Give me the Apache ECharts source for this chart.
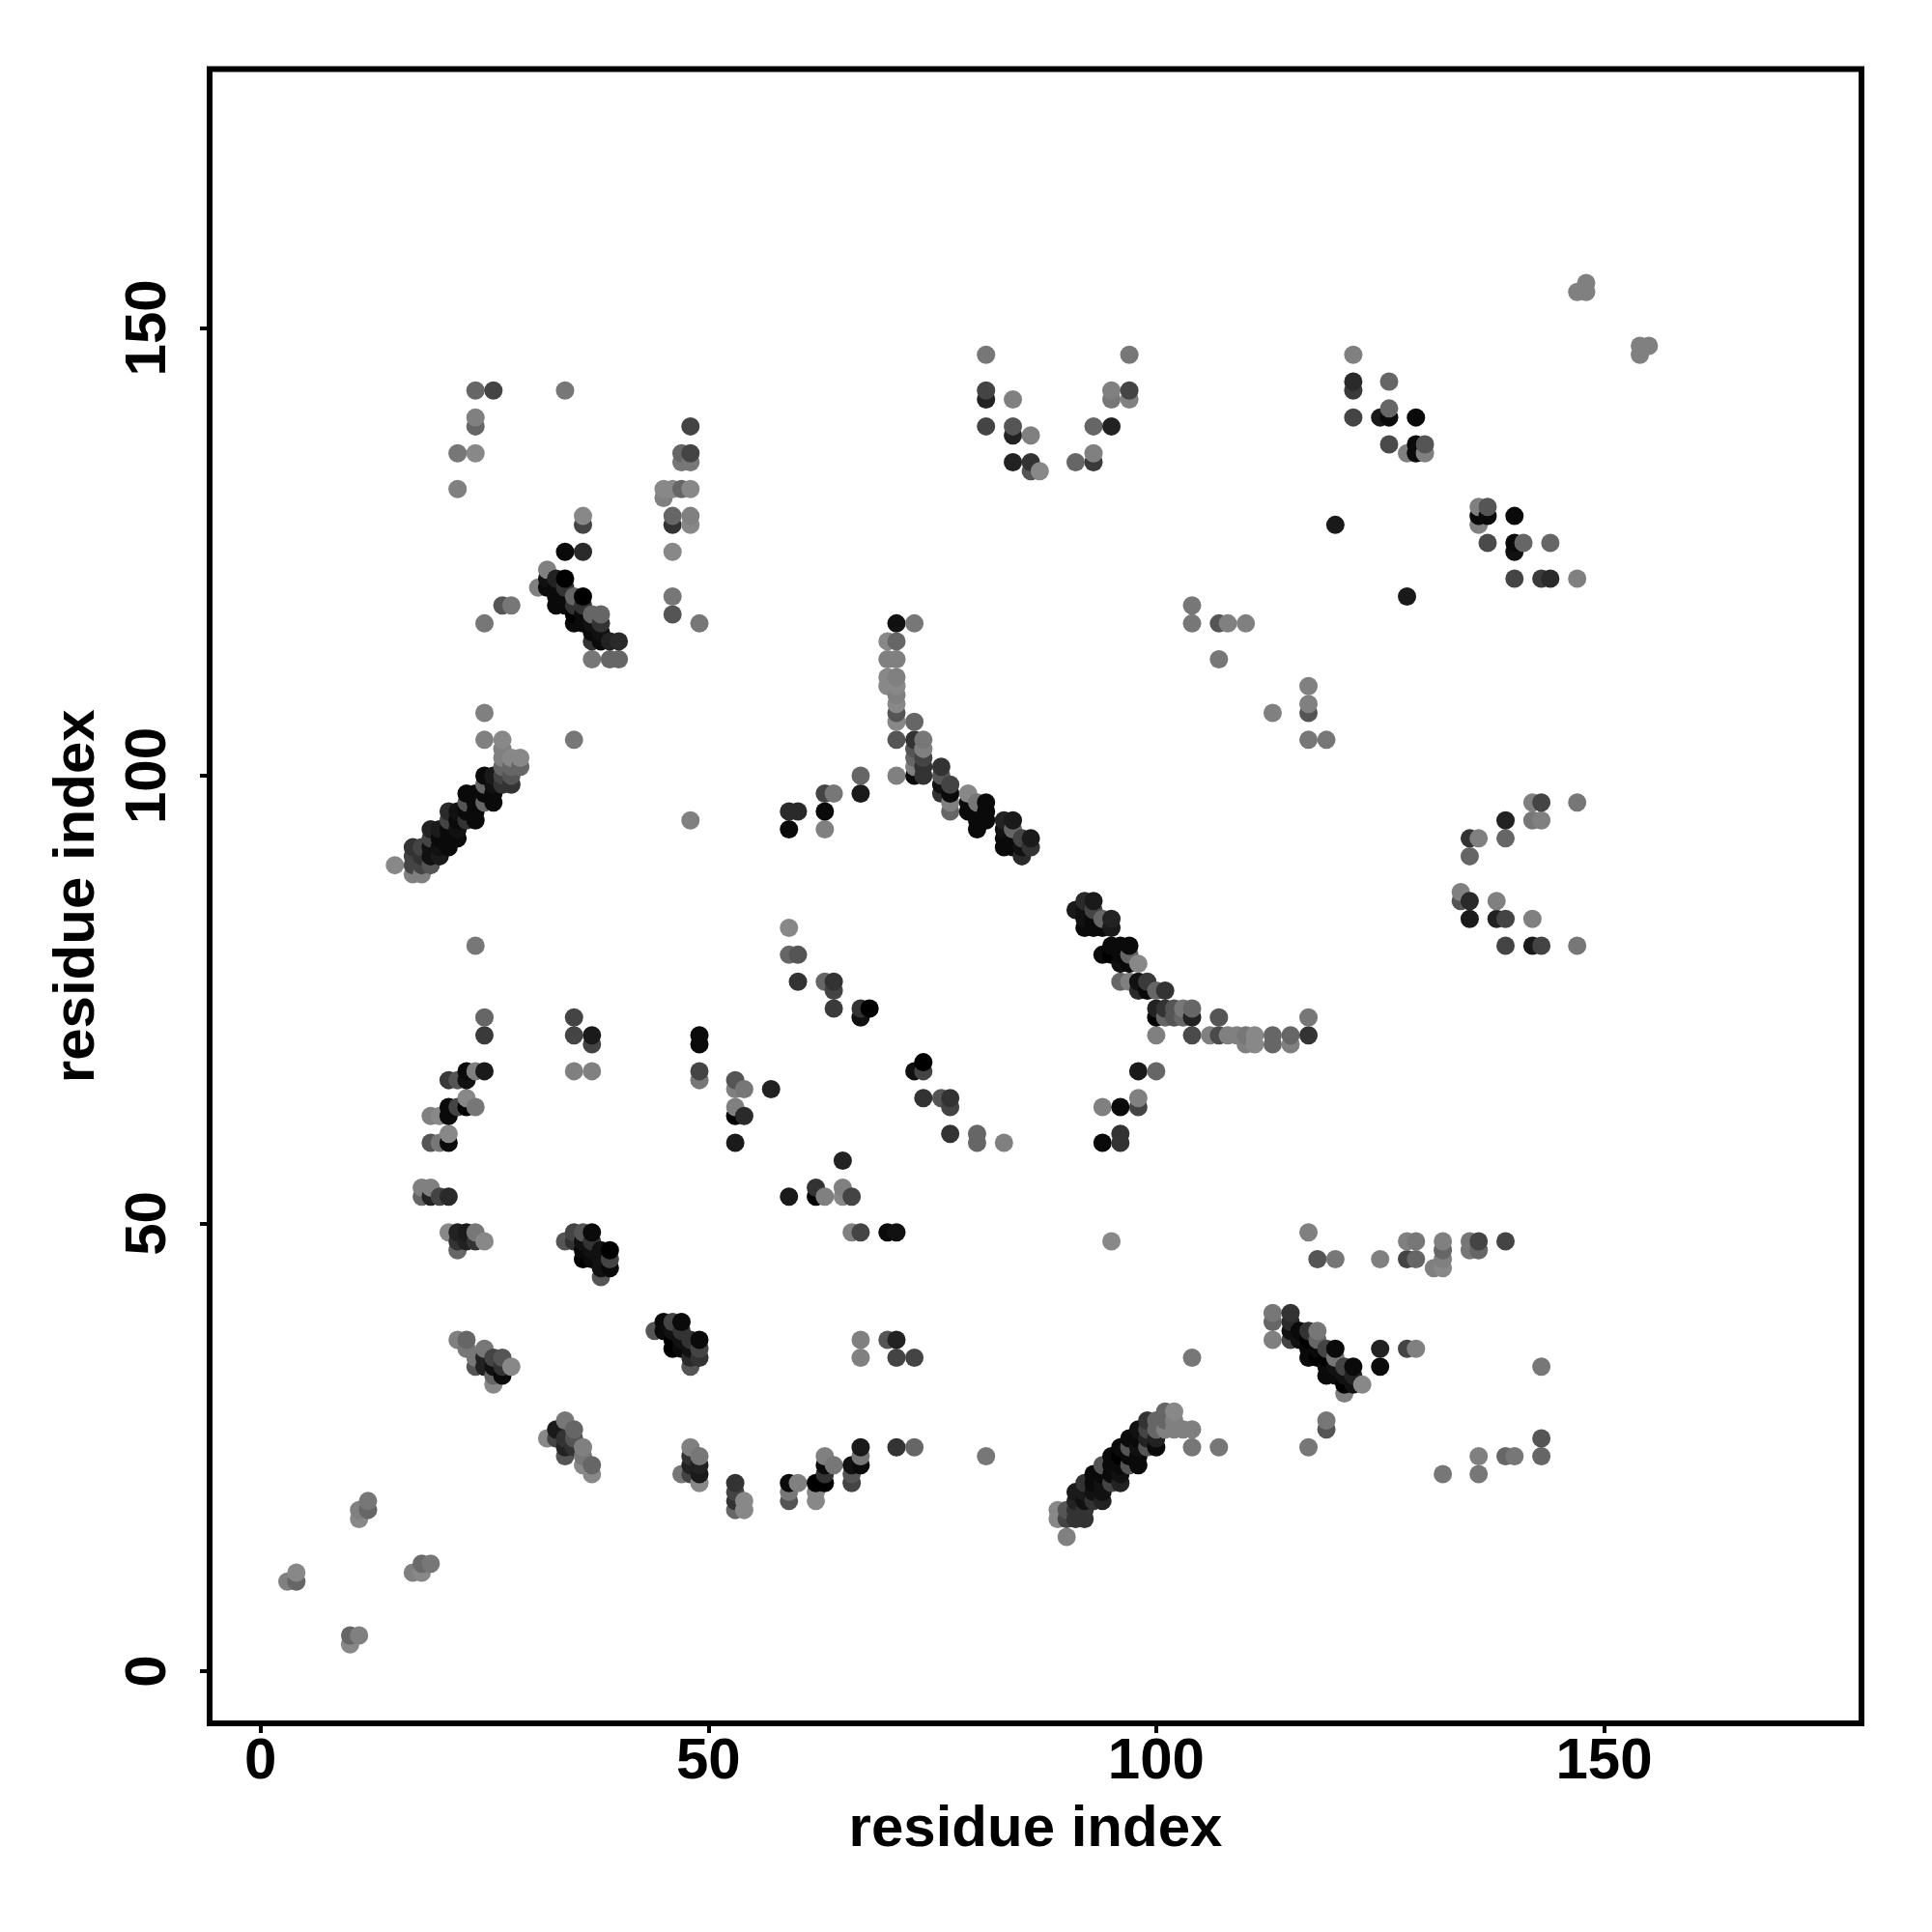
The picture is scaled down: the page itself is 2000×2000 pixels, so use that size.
<!DOCTYPE html>
<html><head><meta charset="utf-8">
<script src="https://cdn.jsdelivr.net/npm/echarts@6/dist/echarts.min.js"></script>
<style>html,body{margin:0;padding:0;background:#fff}#c{width:2000px;height:2000px}</style>
</head><body><div id="c"></div>
<script>
const xTickValues = [0, 50, 100, 150];
const yTickValues = [0, 50, 100, 150];
const xTitle = 'residue index';
const yTitle = 'residue index';
// each contact: [residue x, residue y, grey level]
const lowCorner = [[4,11,0x88],[4,10,0x66],[3,10,0x80],[12,19,0x77],[12,18,0x66],[11,18,0x80],[11,17,0x88],
 [18,12,0x6a],[19,12,0x77],[17,11,0x80],[18,11,0x88],[10,4,0x66],[11,4,0x80],[10,3,0x88]];
const leftLow = [[21,60,0x88],[21,59,0x0a],[19,59,0x55],[20,59,0x77],[18,54,0x80],[19,54,0x80],[18,53,0x66],[19,53,0x22],[20,53,0x44],[21,53,0x2a],
 [21,49,0x88],[22,49,0x22],[23,49,0x1a],[24,49,0x77],[25,48,0x88],[22,47,0x66],[22,48,0x33],[23,48,0x22],[24,48,0x33],
 [34,48,0x55],[35,49,0x44],[36,49,0x55],[37,49,0x0a],[35,48,0x33],[36,48,0x11],[37,48,0x33],[36,47,0x0a],[37,47,0x11],[38,47,0x11],[39,47,0x00],
 [36,46,0x00],[37,46,0x0a],[38,46,0x11],[39,46,0x44],[38,45,0x11],[39,45,0x0a],[38,44,0x55]];
const arcLow = [[22,37,0x80],[23,37,0x66],[23,36,0x77],[24,35,0x77],[25,36,0x77],[24,34,0x55],[25,35,0x22],[25,34,0x22],[26,35,0x44],[27,35,0x55],[28,34,0x88],
 [26,34,0x11],[27,34,0x33],[27,33,0x0a],[26,33,0x66],[26,32,0x88],
 [34,28,0x77],[35,27,0x66],[33,27,0x1a],[32,26,0x88],[33,26,0x44],[34,26,0x33],[35,26,0x55],[34,25,0x22],[35,25,0x33],[36,25,0x80],[34,24,0x55],[36,24,0x77],[36,23,0x88],[37,23,0x66],[37,22,0x88]];
const midLow = [[53,59,0x1a],[65,57,0x22],[77,60,0x33],[80,60,0x66],[80,59,0x66],[83,59,0x80],[94,59,0x0a],[96,59,0x33],[96,60,0x33],
 [62,54,0x33],[65,54,0x80],[59,53,0x1a],[62,53,0x00],[63,53,0x80],[65,53,0x88],[66,53,0x44],[66,49,0x80],[67,49,0x44],[70,49,0x0a],[71,49,0x11],
 [44,38,0x55],[45,39,0x0a],[46,39,0x44],[47,39,0x0a],[45,38,0x0a],[46,38,0x11],[47,38,0x33],[46,37,0x00],[47,37,0x11],[48,37,0x33],[49,37,0x0a],
 [46,36,0x00],[47,36,0x0a],[48,36,0x11],[49,36,0x44],[48,35,0x2a],[49,35,0x33],[48,34,0x55],
 [67,37,0x80],[67,35,0x80],[70,37,0x55],[71,37,0x22],[71,35,0x44],[73,35,0x44]];
const bottomArc = [[48,25,0x80],[49,24,0x77],[48,24,0x33],[48,23,0x22],[49,23,0x22],[47,22,0x77],[48,22,0x44],[49,22,0x1a],[49,21,0x88],
 [53,21,0x33],[53,20,0x44],[53,19,0x33],[54,19,0x88],[53,18,0x66],[54,18,0x88],[59,21,0x0a],[60,21,0x80],[59,20,0x77],[59,19,0x55],
 [62,21,0x00],[63,21,0x00],[62,20,0x88],[62,19,0x88],[63,22,0x33],[63,23,0x0a],[63,24,0x80],[64,23,0x77],
 [66,23,0x11],[67,23,0x0a],[67,24,0x77],[67,25,0x1a],[66,22,0x55],[66,21,0x44],[71,25,0x33],[73,25,0x66],[81,24,0x77]];
const lowBand = [[90,15,0x80],[89,17,0x88],[90,17,0x44],[91,17,0x33],[92,17,0x33],[89,18,0x88],[90,18,0x55],[91,18,0x33],[92,18,0x33],
 [91,19,0x22],[92,19,0x11],[93,19,0x33],[94,19,0x22],[91,20,0x1a],[92,20,0x1a],[93,20,0x11],[94,20,0x11],
 [92,21,0x33],[93,21,0x0a],[94,21,0x11],[95,21,0x44],[96,21,0x22],[93,22,0x0a],[94,22,0x0a],[95,22,0x0a],[96,22,0x11],
 [94,23,0x55],[95,23,0x0a],[96,23,0x0a],[97,23,0x55],[98,23,0x0a],[95,24,0x0a],[96,24,0x00],[97,24,0x0a],[98,24,0x0a],
 [96,25,0x0a],[97,25,0x55],[98,25,0x11],[99,25,0x55],[100,25,0x0a],[97,26,0x0a],[98,26,0x0a],[99,26,0x22],[100,26,0x22],
 [98,27,0x11],[99,27,0x44],[100,27,0x66],[101,27,0x80],[102,27,0x80],[103,27,0x80],[104,27,0x80],[99,28,0x33],[100,28,0x66],[101,28,0x66],[102,28,0x80],[101,29,0x66],[102,29,0x88],
 [104,25,0x77],[107,25,0x77],[104,35,0x77],[95,48,0x88]];
const rightLow = [[117,49,0x80],[118,46,0x55],[120,46,0x77],[113,40,0x77],[113,39,0x66],[113,37,0x80],[115,40,0x33],[115,39,0x2a],[115,38,0x11],[115,37,0x44],
 [116,38,0x0a],[116,37,0x11],[117,38,0x33],[118,38,0x77],[117,37,0x00],[118,37,0x66],[117,35,0x0a],[117,36,0x0a],[118,36,0x0a],[118,35,0x00],[119,36,0x44],[120,36,0x0a],
 [119,35,0x00],[120,35,0x77],[119,34,0x0a],[119,33,0x0a],[120,34,0x11],[120,33,0x0a],[121,34,0x44],[122,34,0x0a],[121,33,0x11],[122,33,0x22],[121,32,0x00],[122,32,0x11],
 [123,32,0x88],[121,31,0x80],[125,36,0x22],[125,34,0x0a],[119,28,0x77],[119,27,0x55],[117,25,0x77],
 [128,48,0x80],[129,48,0x77],[132,48,0x80],[132,47,0x66],[135,48,0x77],[136,48,0x44],[135,47,0x77],[136,47,0x66],[139,48,0x44],
 [125,46,0x80],[128,46,0x44],[129,46,0x66],[131,45,0x80],[132,45,0x88],[132,46,0x80],[128,36,0x44],[129,36,0x80],[143,34,0x77],
 [143,26,0x55],[143,24,0x66],[136,24,0x80],[139,24,0x66],[140,24,0x77],[132,22,0x77],[136,22,0x77]];
const upperBand = [[25,107,0x80],[25,104,0x80],[27,104,0x88],[35,104,0x77],[15,90,0x88],[17,89,0x80],[18,89,0x80],[17,90,0x44],[18,90,0x44],[19,90,0x55],
 [17,91,0x44],[18,91,0x33],[19,91,0x11],[20,91,0x1a],[17,92,0x33],[18,92,0x44],[19,92,0x11],[20,92,0x11],[21,92,0x0a],
 [19,93,0x44],[20,93,0x0a],[21,93,0x0a],[22,93,0x0a],[19,94,0x22],[20,94,0x1a],[21,94,0x0a],[22,94,0x11],
 [21,95,0x44],[22,95,0x0a],[23,95,0x33],[24,95,0x0a],[21,96,0x2a],[22,96,0x11],[23,96,0x0a],[24,96,0x0a],
 [23,97,0x55],[24,97,0x0a],[25,97,0x66],[26,97,0x0a],[23,98,0x0a],[24,98,0x0a],[25,98,0x0a],[26,98,0x0a],
 [25,99,0x66],[26,99,0x11],[27,99,0x33],[28,99,0x33],[25,100,0x0a],[26,100,0x1a],[27,100,0x44],[28,100,0x55],
 [27,101,0x66],[28,101,0x66],[29,101,0x66],[27,102,0x80],[28,102,0x88],[29,102,0x88],[27,103,0x80]];
const leftMid = [[24,81,0x77],[25,73,0x66],[25,71,0x3a],[35,73,0x44],[35,71,0x44],[37,71,0x1a],[37,70,0x44],[35,67,0x80],[37,67,0x80],
 [25,67,0x1a],[24,67,0x80],[23,67,0x0a],[23,66,0x11],[22,66,0x55],[21,66,0x3a],[23,64,0x88],[24,63,0x77],[21,63,0x0a],[21,62,0x0a],[22,63,0x44],[23,63,0x00],[19,62,0x80],[20,62,0x88]];
const centre = [[48,95,0x80],[59,96,0x2a],[60,96,0x2a],[59,94,0x0a],[63,96,0x0a],[63,94,0x80],[63,98,0x44],[64,98,0x77],[67,100,0x66],[67,98,0x1a],
 [59,83,0x88],[59,80,0x66],[60,80,0x55],[60,77,0x33],[63,77,0x66],[64,77,0x33],[64,76,0x44],[64,74,0x3a],[67,74,0x33],[68,74,0x00],[67,73,0x11],
 [49,71,0x0a],[49,70,0x0a],[49,67,0x44],[49,66,0x77],[53,66,0x55],[53,65,0x80],[54,65,0x77],[57,65,0x22],[53,63,0x80],[53,62,0x00],[54,62,0x2a],
 [73,67,0x11],[74,67,0x44],[74,68,0x00],[74,64,0x33],[76,64,0x55],[77,64,0x33],[77,63,0x44]];
const stem = [[71,117,0x11],[73,117,0x77],[70,115,0x88],[71,115,0x66],[70,113,0x80],[71,113,0x80],[70,111,0x88],[71,111,0x80],[70,110,0x88],[71,110,0x88],[71,109,0x80],[71,108,0x88],[71,107,0x55],[71,106,0x88],[73,106,0x66],
 [71,104,0x55],[71,100,0x80],[73,100,0x0a],[73,104,0x33],[73,103,0x55],[73,102,0x66],[73,101,0x80],[74,104,0x77],[74,103,0x80],[74,102,0x44],[74,101,0x33],[74,100,0x33],
 [76,101,0x33],[76,100,0x55],[76,99,0x11],[76,98,0x33],[77,99,0x44],[77,98,0x0a],[77,97,0x80],[77,96,0x66],[79,98,0x88],[79,97,0x0a],[79,96,0x0a],[80,97,0x77],[81,97,0x0a],[80,96,0x0a],[81,96,0x0a],[81,95,0x0a],[80,95,0x0a],[80,94,0x0a],
 [83,95,0x22],[84,95,0x1a],[83,94,0x11],[83,93,0x0a],[83,92,0x0a],[84,94,0x66],[84,93,0x0a],[84,92,0x0a],[85,93,0x44],[86,93,0x1a],[85,92,0x11],[86,92,0x33],[85,91,0x2a]];
const tail = [[113,107,0x80],[117,108,0x80],[117,107,0x55],[117,104,0x77],[119,104,0x77],
 [91,85,0x1a],[92,86,0x2a],[93,86,0x1a],[92,85,0x11],[93,85,0x44],[92,84,0x11],[92,83,0x0a],[93,84,0x0a],[93,83,0x0a],[94,84,0x66],[94,83,0x0a],[95,84,0x22],[95,83,0x1a],
 [94,80,0x0a],[95,81,0x0a],[96,81,0x0a],[97,81,0x0a],[95,80,0x00],[96,80,0x0a],[97,80,0x66],[96,79,0x11],[97,79,0x0a],[98,79,0x88],
 [96,77,0x66],[97,77,0x80],[98,77,0x11],[99,77,0x3a],[98,76,0x2a],[99,76,0x0a],[100,76,0x66],[101,76,0x33],
 [100,74,0x22],[101,74,0x33],[102,74,0x55],[103,74,0x77],[104,74,0x66],[100,73,0x00],[101,73,0x66],[102,73,0x55],[103,73,0x66],[104,73,0x22],
 [100,71,0x80],[104,71,0x4a],[107,73,0x55],[106,71,0x80],[107,71,0x4a],[108,71,0x80],[109,71,0x80],[110,71,0x77],[110,70,0x80],[111,71,0x88],[111,70,0x88],[113,71,0x66],[113,70,0x66],[115,71,0x66],[115,70,0x80],[117,71,0x33],[117,73,0x77],
 [98,67,0x1a],[100,67,0x66],[94,63,0x80],[96,63,0x0a],[98,63,0x44],[98,64,0x80]];
const rightMid = [[142,97,0x80],[143,97,0x44],[147,97,0x77],[139,95,0x22],[142,95,0x77],[143,95,0x80],[135,93,0x33],[136,93,0x80],[139,93,0x66],[135,91,0x66],
 [134,87,0x80],[134,86,0x55],[135,86,0x2a],[138,86,0x80],[135,84,0x1a],[138,84,0x22],[139,84,0x44],[142,84,0x80],[139,81,0x44],[142,81,0x1a],[143,81,0x44],[147,81,0x77]];
const topLeft = [[24,143,0x66],[26,143,0x44],[34,143,0x77],[24,140,0x80],[24,139,0x66],[22,136,0x77],[24,136,0x88],[22,132,0x80],
 [48,139,0x44],[47,136,0x66],[48,136,0x44],[47,135,0x77],[48,135,0x77],[45,132,0x88],[46,132,0x88],[47,132,0x66],[48,132,0x88],[45,131,0x80],
 [46,129,0x66],[46,128,0x33],[48,129,0x80],[48,128,0x88],[46,125,0x88],[34,125,0x0a],[36,125,0x2a],[36,129,0x88],[36,128,0x44],[46,120,0x77],[46,118,0x55],[49,117,0x77],
 [32,123,0x80],[31,121,0x80],[27,119,0x55],[28,119,0x77],[25,117,0x77],[37,113,0x77],[39,113,0x66],[40,113,0x66],[40,115,0x2a],[39,115,0x22],[38,115,0x0a],[37,115,0x33],
 [37,116,0x0a],[38,116,0x11],[35,117,0x0a],[36,117,0x0a],[37,117,0x11],[38,117,0x33],[35,118,0x00],[36,118,0x0a],[37,118,0x66],[38,118,0x66],
 [33,119,0x0a],[34,119,0x0a],[35,119,0x33],[36,119,0x33],[33,120,0x0a],[34,120,0x0a],[35,120,0x66],[36,120,0x00],[32,121,0x0a],[33,121,0x0a],[34,121,0x33],[32,122,0x11],[33,122,0x22],[34,122,0x00]];
const topMid = [[81,147,0x77],[97,147,0x77],[81,143,0x44],[81,142,0x22],[84,142,0x80],[95,143,0x80],[95,142,0x77],[97,143,0x44],[97,142,0x80],
 [81,139,0x44],[84,139,0x55],[84,138,0x22],[86,138,0x80],[93,139,0x66],[95,139,0x22],[84,135,0x22],[86,135,0x33],[86,134,0x55],[87,134,0x88],[91,135,0x66],[93,136,0x80],[93,135,0x3a],
 [104,119,0x77],[104,117,0x77],[107,117,0x55],[108,117,0x80],[110,117,0x80],[107,113,0x77],[117,110,0x80]];
const topRight = [[122,147,0x80],[122,144,0x2a],[122,143,0x3a],[126,144,0x66],[122,140,0x44],[125,140,0x1a],[126,140,0x0a],[126,141,0x66],[129,140,0x0a],
 [126,137,0x4a],[128,136,0x80],[129,137,0x0a],[129,136,0x0a],[130,137,0x55],[130,136,0x80],[120,128,0x1a],[128,120,0x1a],
 [136,130,0x80],[137,130,0x55],[136,129,0x0a],[137,129,0x0a],[136,128,0x80],[140,129,0x0a],[137,126,0x4a],[140,126,0x0a],[140,125,0x11],[141,126,0x66],[144,126,0x66],
 [140,122,0x44],[143,122,0x3a],[144,122,0x2a],[147,122,0x80],[147,154,0x80],[148,154,0x80],[148,155,0x80],[154,147,0x80],[154,148,0x80],[155,148,0x80]];

const contacts = [].concat(lowCorner,leftLow,arcLow,midLow,bottomArc,lowBand,rightLow,upperBand,leftMid,centre,stem,tail,rightMid,topLeft,topMid,topRight)
  .sort((a,b)=>a[0]-b[0]||a[1]-b[1]);

const font = 'Liberation Sans';
const chart = echarts.init(document.getElementById('c'), null, {renderer:'canvas'});
chart.setOption({
  animation:false,
  backgroundColor:'#fff',
  grid:{left:217,top:71.5,width:1710,height:1712.5,show:true,backgroundColor:'transparent',borderColor:'#000',borderWidth:6,containLabel:false},
  xAxis:{type:'value',min:-5.684,max:178.74,splitLine:{show:false},axisLine:{show:false,onZero:false},
    axisTick:{show:true,length:10,inside:false,lineStyle:{color:'#000',width:4},customValues:xTickValues},
    axisLabel:{show:true,customValues:xTickValues,color:'#000',fontFamily:font,fontWeight:'bold',fontSize:60,margin:10},
    name:xTitle,nameLocation:'center',nameGap:80,nameTextStyle:{color:'#000',fontFamily:font,fontWeight:'bold',fontSize:60}},
  yAxis:{type:'value',min:-5.824,max:178.9,splitLine:{show:false},axisLine:{show:false,onZero:false},
    axisTick:{show:true,length:10,inside:false,lineStyle:{color:'#000',width:4},customValues:yTickValues},
    axisLabel:{show:true,customValues:yTickValues,rotate:90,color:'#000',fontFamily:font,fontWeight:'bold',fontSize:60,margin:63,align:'center',verticalAlign:'middle'},
    name:yTitle,nameLocation:'center',nameGap:107,nameTextStyle:{color:'#000',fontFamily:font,fontWeight:'bold',fontSize:60}},
  series:[{type:'scatter',data:contacts,symbol:'circle',symbolSize:19,clip:false,large:false,
    encode:{x:0,y:1},
    itemStyle:{opacity:1,color:p=>{const g=p.value[2];return 'rgb('+g+','+g+','+g+')';}}}]
});
</script></body></html>
